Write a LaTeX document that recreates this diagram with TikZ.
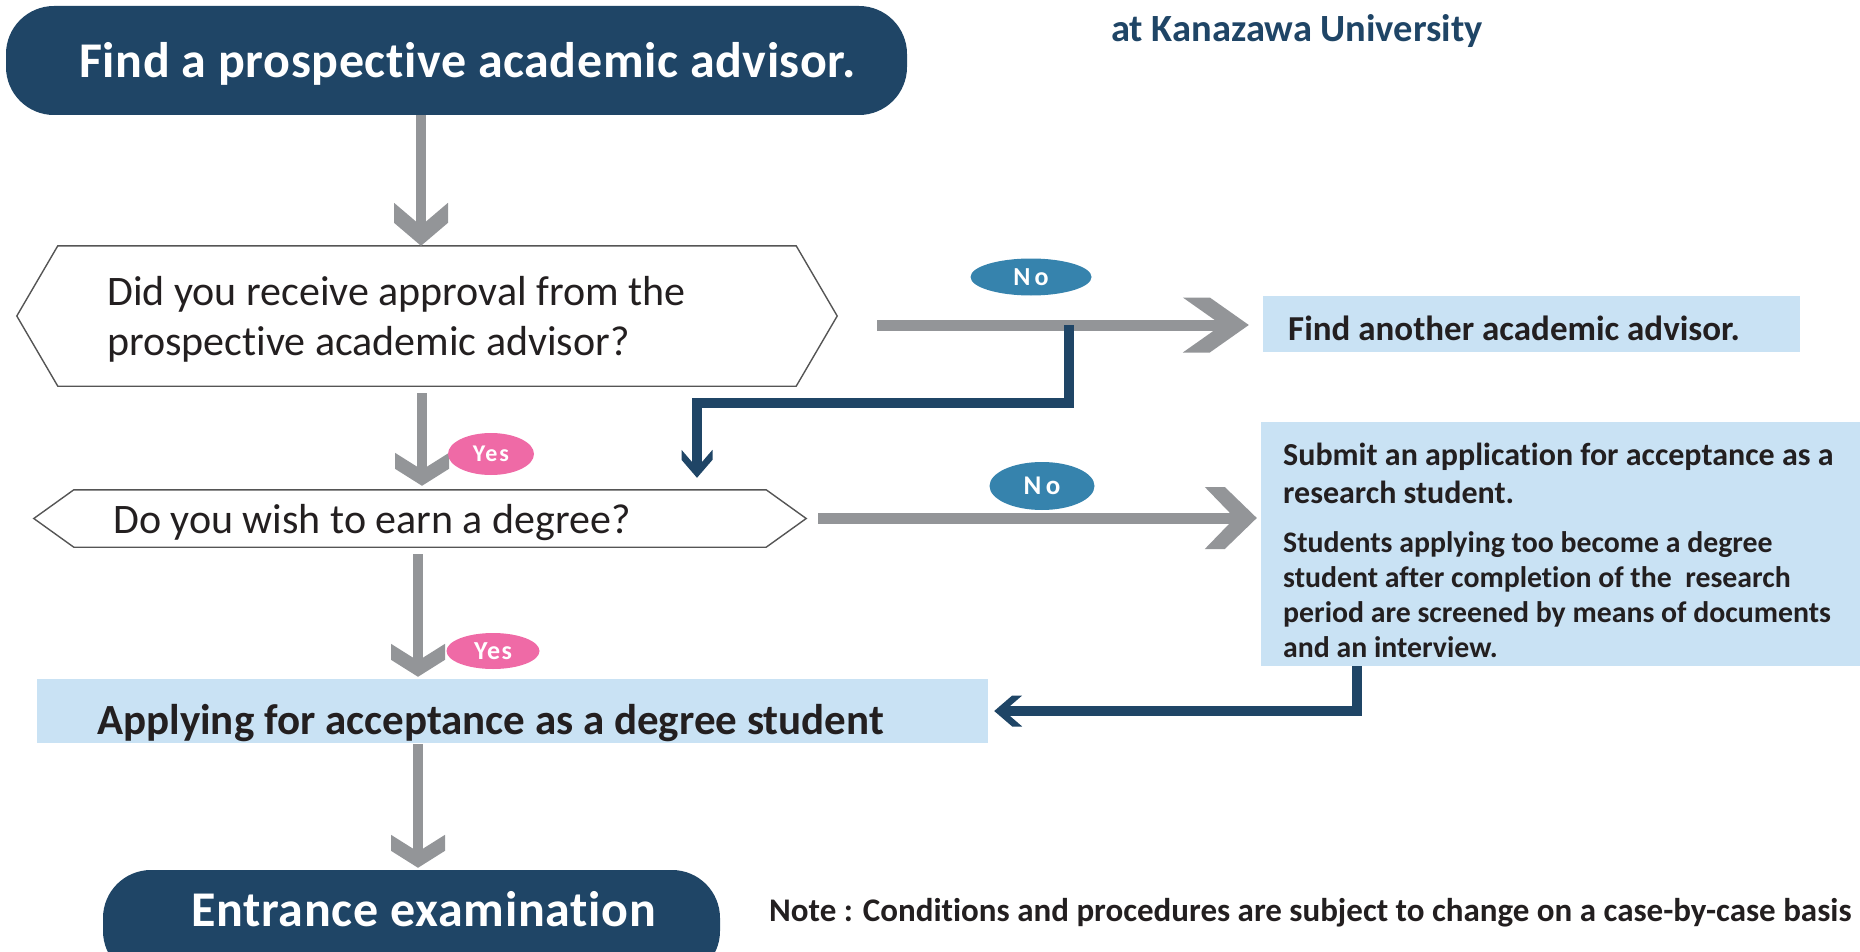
\documentclass[tikz,border=0pt]{standalone}
\usepackage{fontspec}
\setmainfont{Carlito}[Ligatures=NoCommon]
\usetikzlibrary{arrows.meta,shapes.geometric}
\definecolor{navy}{HTML}{1F4566}
\definecolor{arrgray}{HTML}{939598}
\definecolor{lblue}{HTML}{C9E2F4}
\definecolor{pinkl}{HTML}{EF6AA6}
\definecolor{noblue}{HTML}{3683AD}
\definecolor{txtdark}{HTML}{231F20}
\definecolor{hexgray}{HTML}{555555}
\newcommand{\myfs}[2]{\fontsize{#1pt}{#2pt}\selectfont}
% chevron arrow tips: name, a (tip to outer corner), a+t (tip to back), h (half width), d (tip to inner vertex)
\newcommand{\mkchev}[5]{%
  \pgfdeclarearrow{
    name=#1,
    setup code={\pgfarrowssettipend{0pt}\pgfarrowssetlineend{-#5pt}\pgfarrowssetbackend{-#3pt}\pgfarrowssetvisualbackend{-#3pt}},
    drawing code={%
      \pgfpathmoveto{\pgfqpoint{0pt}{0pt}}%
      \pgfpathlineto{\pgfqpoint{-#2pt}{#4pt}}%
      \pgfpathlineto{\pgfqpoint{-#3pt}{#4pt}}%
      \pgfpathlineto{\pgfqpoint{-#5pt}{0pt}}%
      \pgfpathlineto{\pgfqpoint{-#3pt}{-#4pt}}%
      \pgfpathlineto{\pgfqpoint{-#2pt}{-#4pt}}%
      \pgfpathclose
      \pgfusepathqfill}
  }}
\mkchev{ChevH}{39}{66}{27.5}{27}
\mkchev{ChevHb}{32}{52}{31}{22}
\mkchev{ChevV}{17}{33}{27}{16}
\mkchev{ChevVbig}{23}{43}{27}{20}
\mkchev{ChevB}{18}{28}{15.5}{10}
\tikzset{
  navybox/.style={draw=none, fill=navy, rounded corners=48pt, inner sep=0pt},
  hexnode/.style={draw=none, inner sep=0pt},
  hexline/.style={draw=hexgray, line width=1.4pt, line join=miter},
  lbox/.style={draw=none, fill=lblue, inner sep=0pt},
  lbl/.style={inner sep=0pt, anchor=base west},
  pill/.style={ellipse, draw=none, inner sep=0pt, text=white},
  grayarr/.style={color=arrgray, line width=10pt, -ChevV},
  grayarrh/.style={color=arrgray, line width=11pt, -ChevH},
  bluearr/.style={color=navy, line width=10pt, line join=miter, -ChevB},
}
\begin{document}
\begin{tikzpicture}[x=1pt,y=-1pt]
\useasboundingbox (0,0) rectangle (1860,952);
% title fragment
\node[lbl, text=navy, font=\myfs{38.5}{44}\bfseries] (title) at (1111,42) {at Kanazawa University};
% top node
\node[navybox, minimum width=901pt, minimum height=109pt] (top) at (456.5,60.5) {};
\node[lbl, text=white, font=\myfs{50}{60}\bfseries\addfontfeature{LetterSpace=1.2}] (topt) at (79,78) {Find a prospective academic advisor.};
% question 1
\node[hexnode, minimum width=820pt, minimum height=140pt] (q1) at (427,316) {};
\draw[hexline] (q1.west) -- ([xshift=41pt]q1.north west) -- ([xshift=-41pt]q1.north east) -- (q1.east) -- ([xshift=-41pt]q1.south east) -- ([xshift=41pt]q1.south west) -- cycle;
\node[lbl, text=txtdark, font=\myfs{42}{50}, align=left] (q1t) at (107,355) {Did you receive approval from the\\prospective academic advisor?};
% question 2
\node[hexnode, minimum width=772pt, minimum height=57pt] (q2) at (420,518.5) {};
\draw[hexline] (q2.west) -- ([xshift=40pt]q2.north west) -- ([xshift=-40pt]q2.north east) -- (q2.east) -- ([xshift=-40pt]q2.south east) -- ([xshift=40pt]q2.south west) -- cycle;
\node[lbl, text=txtdark, font=\myfs{42}{50}] (q2t) at (113,533) {Do you wish to earn a degree?};
% find another
\node[lbox, minimum width=537pt, minimum height=56pt] (another) at (1531.5,324) {};
\node[lbl, text=txtdark, font=\myfs{35}{40}\bfseries] (anothert) at (1288,340) {Find another academic advisor.};
% research box
\node[lbox, minimum width=619pt, minimum height=244pt] (research) at (1570.5,544) {};
\node[lbl, text=txtdark, font=\myfs{32}{38}\bfseries, align=left] (res1) at (1283,503) {Submit an application for acceptance as a\\research student.};
\node[lbl, text=txtdark, font=\myfs{29.8}{34.7}\bfseries, align=left] (res2) at (1283,657) {Students applying too become a degree\\student after completion of the\ \ research\\period are screened by means of documents\\and an interview.};
% apply box
\node[lbox, minimum width=951pt, minimum height=64pt] (apply) at (512.5,711) {};
\node[lbl, text=txtdark, font=\myfs{43}{50}\bfseries] (applyt) at (97,734) {Applying for acceptance as a degree student};
% exam
\node[navybox, minimum width=617pt, minimum height=109pt] (exam) at (411.5,924.5) {};
\node[lbl, text=white, font=\myfs{50}{60}\bfseries\addfontfeature{LetterSpace=1.4}] (examt) at (191,926) {Entrance examination};
% note
\node[lbl, text=txtdark, font=\myfs{33}{40}\bfseries] (note) at (769,921) {Note : Conditions and procedures are subject to change on a case-by-case basis};
% gray connectors
\draw[grayarr, -ChevVbig] (top.south -| 421,0) -- (q1.north -| 421,0);
\draw[grayarr, shorten <=7pt, shorten >=4pt] (q1.south -| 422,0) -- (q2.north -| 422,0);
\draw[grayarr, shorten <=7pt, shorten >=2pt] (q2.south -| 418,0) -- (apply.north -| 418,0);
\draw[grayarr, shorten <=1pt, shorten >=2pt] (apply.south -| 418,0) -- (exam.north -| 418,0);
\draw[grayarrh, shorten <=40pt, shorten >=14pt] (q1.east |- 0,325) -- (another.west |- 0,325);
\draw[grayarrh, -ChevHb, shorten <=12pt, shorten >=4pt] (q2.east |- 0,518) -- (research.west |- 0,518);
% blue connectors
\coordinate (br) at (1069,325);
\coordinate (bend) at (697,403);
\draw[bluearr, shorten >=12pt] (br) |- (bend) -- (bend |- q2.north);
\draw[bluearr, shorten >=6pt] (research.south -| 1357,0) |- (apply.east);
% labels
\node[pill, fill=noblue, minimum width=121pt, minimum height=37pt, font=\myfs{26}{30}\bfseries, text height=17pt, text depth=0pt] (no1) at (1031,277) {N\,o};
\node[pill, fill=noblue, minimum width=105pt, minimum height=48pt, font=\myfs{27}{30}\bfseries, text height=17.5pt, text depth=0pt] (no2) at (1042,486) {N\,o};
\node[pill, fill=pinkl, minimum width=86pt, minimum height=42pt, font=\myfs{24}{28}\bfseries\addfontfeature{LetterSpace=8}, text height=15.5pt, text depth=0pt] (yes1) at (491,454) {Yes};
\node[pill, fill=pinkl, minimum width=93pt, minimum height=36pt, font=\myfs{26}{30}\bfseries\addfontfeature{LetterSpace=6}, text height=16.5pt, text depth=0pt] (yes2) at (493,651) {Yes};
\end{tikzpicture}
\end{document}
